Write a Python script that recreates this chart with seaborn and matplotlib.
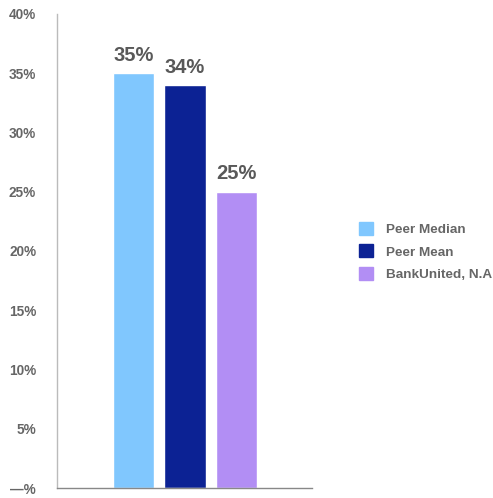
import matplotlib
matplotlib.use("Agg")
import matplotlib.pyplot as plt
import matplotlib.patches as mpatches
import seaborn as sns
import pandas as pd

# data
names = ["Peer Median", "Peer Mean", "BankUnited, N.A"]
values = [35, 34, 25]
colors = ["#80C7FE", "#0C2294", "#B28EF4"]
yticks = [0, 5, 10, 15, 20, 25, 30, 35, 40]
ytick_labels = ["—%"] + [f"{t}%" for t in yticks[1:]]

df = pd.DataFrame({"name": names, "value": values})

sns.set_style("white")
plt.rcParams["font.family"] = ["Liberation Sans", "DejaVu Sans"]

fig = plt.figure(figsize=(4.93, 4.98), dpi=100)
ax = fig.add_axes([0.1156, 0.020, 0.517, 0.952])

sns.barplot(data=df, x="name", y="value", hue="name", palette=colors,
            order=names, hue_order=names, width=0.8, dodge=False,
            saturation=1, legend=False, ax=ax)

for i, v in enumerate(values):
    ax.text(i, v + 0.7, f"{v}%", ha="center", va="bottom",
            fontsize=14.5, fontweight="bold", color="#595959")

ax.set_xlim(-1.485, 3.466)
ax.set_ylim(0, 40)
ax.set_yticks(yticks)
ax.set_yticklabels(ytick_labels, fontsize=9.8, fontweight="bold", color="#666666")
ax.set_xticks([])
ax.set_xlabel("")
ax.set_ylabel("")
ax.tick_params(axis="y", length=0, pad=15)

for s in ["top", "right"]:
    ax.spines[s].set_visible(False)
ax.spines["left"].set_color("#bbbbbb")
ax.spines["bottom"].set_color("#888888")
ax.spines["left"].set_linewidth(1)
ax.spines["bottom"].set_linewidth(1)

handles = [mpatches.Patch(color=c, label=n) for c, n in zip(colors, names)]
leg = fig.legend(handles=handles, loc="upper left", bbox_to_anchor=(0.716, 0.566),
                 frameon=False, handlelength=1.05, handleheight=1.05,
                 handletextpad=0.95, labelspacing=0.62, borderaxespad=0)
for t in leg.get_texts():
    t.set_fontsize(9.7)
    t.set_fontweight("bold")
    t.set_color("#666666")

fig.savefig("out.png", dpi=100)
